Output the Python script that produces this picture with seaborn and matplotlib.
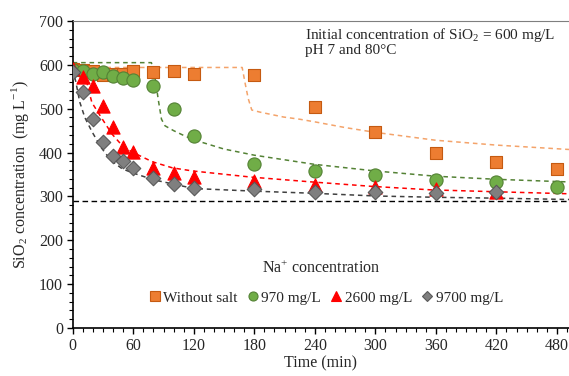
import matplotlib
matplotlib.use("Agg")
import matplotlib.pyplot as plt
import seaborn as sns
import pandas as pd
from matplotlib.lines import Line2D
from matplotlib.ticker import MultipleLocator

sns.set_theme(style="ticks")
plt.rcParams['font.family'] = ['Liberation Serif', 'DejaVu Serif']
plt.rcParams['mathtext.fontset'] = 'custom'
plt.rcParams['mathtext.rm'] = 'Liberation Serif'

# measured points
series_names = ['Without salt', '970 mg/L', '2600 mg/L', '9700 mg/L']
t_nosalt = [0, 10, 20, 30, 40, 50, 60, 80, 100, 120, 180, 240, 300, 360, 420, 480]
c_nosalt = [590, 588, 586, 577, 578, 580, 585, 583, 587, 578, 576, 504, 446, 399, 378, 363]
t_970 = [0, 10, 20, 30, 40, 50, 60, 80, 100, 120, 180, 240, 300, 360, 420, 480]
c_970 = [588, 585, 580, 583, 575, 570, 565, 551, 499, 438, 373, 359, 348, 338, 334, 321]
t_2600 = [0, 10, 20, 30, 40, 50, 60, 80, 100, 120, 180, 240, 300, 360, 420]
c_2600 = [590, 572, 552, 507, 458, 412, 401, 365, 353, 344, 336, 327, 321, 317, 310]
t_9700 = [0, 10, 20, 30, 40, 50, 60, 80, 100, 120, 180, 240, 300, 360, 420]
c_9700 = [583, 539, 477, 424, 393, 380, 365, 342, 329, 320, 318, 310, 309, 308, 310]

# model curves
tm_nosalt = [0, 168, 171, 174, 177.5, 186, 209, 225, 240, 270, 300, 360, 420, 492]
cm_nosalt = [594, 594, 557, 523, 497, 492, 481, 476, 470, 457, 446, 428, 417, 407]
tm_970 = [0, 78, 81.6, 85, 88, 91.5, 100, 110, 120, 150, 180, 240, 300, 360, 420, 492]
cm_970 = [605, 605, 571, 518, 476, 461, 450, 439, 429, 408, 394, 373, 358, 346, 339, 333]
tm_2600 = [0, 8, 12, 15.5, 19, 28, 39, 49, 59, 79, 99, 119, 177, 237, 296, 355, 414, 492]
cm_2600 = [601, 600, 583, 545, 514, 481, 442, 416, 401, 379, 365, 358, 344, 333, 323, 315, 311, 306]
tm_9700 = [0, 3, 7, 12, 19, 28, 38, 49, 59, 80, 100, 120, 180, 240, 300, 360, 420, 492]
cm_9700 = [590, 562, 515, 480, 448, 412, 382, 363, 354, 338, 328, 318, 312, 307, 301, 298, 296, 293]
t_eq = [0, 492]
c_eq = [289, 289]

df = pd.concat([
    pd.DataFrame({'t': t_nosalt, 'c': c_nosalt, 'Na': series_names[0]}),
    pd.DataFrame({'t': t_970, 'c': c_970, 'Na': series_names[1]}),
    pd.DataFrame({'t': t_2600, 'c': c_2600, 'Na': series_names[2]}),
    pd.DataFrame({'t': t_9700, 'c': c_9700, 'Na': series_names[3]}),
])

face = {'Without salt': '#ED7D31', '970 mg/L': '#70AD47', '2600 mg/L': '#FF0000', '9700 mg/L': '#7F7F7F'}
edge = {'Without salt': '#C55A11', '970 mg/L': '#548235', '2600 mg/L': '#FF0000', '9700 mg/L': '#595959'}
mark = {'Without salt': 's', '970 mg/L': 'o', '2600 mg/L': '^', '9700 mg/L': 'D'}
size = {'Without salt': 68, '970 mg/L': 90, '2600 mg/L': 90, '9700 mg/L': 55}

fig = plt.figure(figsize=(5.69, 3.76), dpi=100)
ax = fig.add_axes([0.1278, 0.1277, 0.8722, 0.8165])

# dashed model lines
ax.plot(t_eq, c_eq, color='black', ls=(0, (4, 2.5)), lw=1.0, zorder=1)
ax.plot(tm_nosalt, cm_nosalt, color='#F4A36A', ls=(0, (3, 2.5)), lw=1.1, zorder=1)
ax.plot(tm_970, cm_970, color='#548235', ls=(0, (3, 2.5)), lw=1.1, zorder=1)
ax.plot(tm_2600, cm_2600, color='#FF0000', ls=(0, (3, 2.5)), lw=1.1, zorder=1)
ax.plot(tm_9700, cm_9700, color='#404040', ls=(0, (3, 2.5)), lw=1.1, zorder=1)

for name in series_names:
    sub = df[df['Na'] == name]
    sns.scatterplot(data=sub, x='t', y='c', ax=ax, marker=mark[name], s=size[name],
                    color=face[name], edgecolor=edge[name], linewidth=0.8, zorder=3, legend=False)

ax.set_xlim(0, 492)
ax.set_ylim(0, 700)
ax.xaxis.set_major_locator(MultipleLocator(60))
ax.xaxis.set_minor_locator(MultipleLocator(10))
ax.yaxis.set_major_locator(MultipleLocator(100))
ax.yaxis.set_minor_locator(MultipleLocator(20))
ax.tick_params(which='major', direction='out', length=4, width=1, labelsize=11.5, colors='black', pad=3)
ax.tick_params(which='minor', direction='out', length=3, width=0.8, colors='black')
for lab in ax.get_xticklabels() + ax.get_yticklabels():
    lab.set_color('#262626')

for s in ['left', 'bottom']:
    ax.spines[s].set_color('black')
    ax.spines[s].set_linewidth(1.2)
ax.spines['top'].set_color('#7F7F7F')
ax.spines['top'].set_linewidth(0.8)
ax.spines['right'].set_visible(False)

ax.set_xlabel('Time (min)', fontsize=11.5, labelpad=1)
ax.set_ylabel(r'SiO$_\mathregular{2}$ concentration  (mg L$^\mathregular{-1}$)', fontsize=11.5, labelpad=6)

ax.text(0.468, 0.985, r'Initial concentration of SiO$_\mathregular{2}$ = 600 mg/L', transform=ax.transAxes,
        fontsize=11, va='top', ha='left')
ax.text(0.468, 0.925, 'pH 7 and 80°C', transform=ax.transAxes, fontsize=11, va='top', ha='left')

ax.text(0.50, 0.195, r'Na$^\mathregular{+}$ concentration', transform=ax.transAxes, fontsize=11.5,
        ha='center', va='center')

handles = [Line2D([], [], ls='none', marker=mark[n], markersize=6.5 if n != '9700 mg/L' else 5.5,
                  markerfacecolor=face[n], markeredgecolor=edge[n], markeredgewidth=0.8)
           for n in series_names]
ax.legend(handles, series_names, ncol=4, frameon=False, loc='center',
          bbox_to_anchor=(0.51, 0.098), fontsize=11, handlelength=0.8,
          handletextpad=0.15, columnspacing=0.6, borderpad=0)

fig.savefig('out.png', dpi=100)
